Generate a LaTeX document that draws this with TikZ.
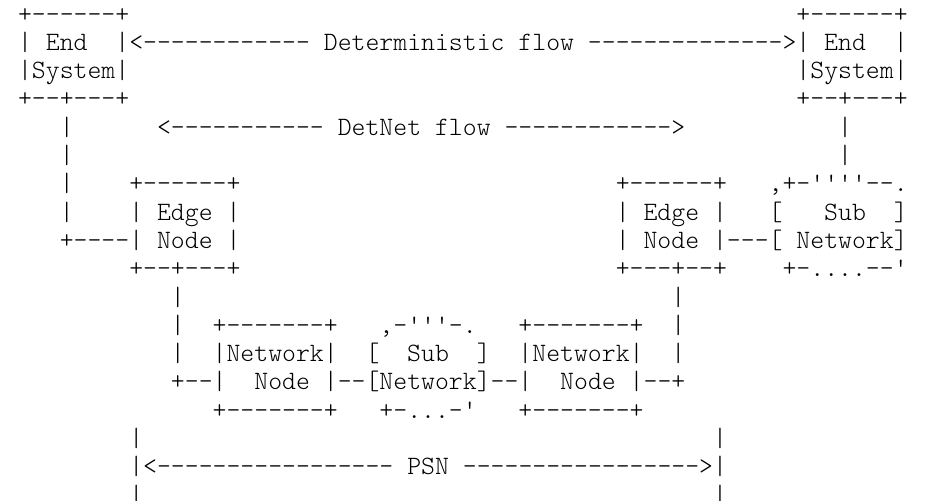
\documentclass[tikz,border=0pt]{standalone}
\usepackage{fontspec}
\newfontfamily\asc{lmmonolt10-regular.otf}
\tikzset{
  asc/.style={anchor=base west, inner sep=0pt, outer sep=0pt,
    font=\asc\fontsize{26.48pt}{28.3pt}\selectfont, text=black}
}
% #1 name, #2 column, #3 line, #4 text
\newcommand\tok[4]{\node[asc] (#1) at ({18.05pt+13.9pt*#2},{-22pt-28.3pt*(#3-1)}) {#4};}
\begin{document}
\begin{tikzpicture}
\useasboundingbox (0,0) rectangle (930pt,-501pt);
\fill[white] (0,0) rectangle (930pt,-501pt);
% line 1
\tok{esLtop}{0}{1}{+------+}
\tok{esRtop}{56}{1}{+------+}
% line 2
\tok{esLa}{0}{2}{|~End~~|}
\tok{dfL}{8}{2}{<------------}
\tok{df}{22}{2}{Deterministic~flow}
\tok{dfR}{41}{2}{-------------->}
\tok{esRa}{56}{2}{|~End~~|}
% line 3
\tok{esLb}{0}{3}{|System|}
\tok{esRb}{56}{3}{|System|}
% line 4
\tok{esLbot}{0}{4}{+--+---+}
\tok{esRbot}{56}{4}{+--+---+}
% line 5
\tok{vL5}{3}{5}{|}
\tok{dnL}{10}{5}{<-----------}
\tok{dn}{23}{5}{DetNet~flow}
\tok{dnR}{35}{5}{------------>}
\tok{vR5}{59}{5}{|}
% line 6
\tok{vL6}{3}{6}{|}
\tok{vR6}{59}{6}{|}
% line 7
\tok{vL7}{3}{7}{|}
\tok{enLtop}{8}{7}{+------+}
\tok{enRtop}{43}{7}{+------+}
\tok{snRtop}{54}{7}{,+-''''--.}
% line 8
\tok{vL8}{3}{8}{|}
\tok{enLa}{8}{8}{|~Edge~|}
\tok{enRa}{43}{8}{|~Edge~|}
\tok{snRa}{54}{8}{[~~~Sub~~]}
% line 9
\tok{enLb}{3}{9}{+----|~Node~|}
\tok{enRb}{43}{9}{|~Node~|---[~Network]}
% line 10
\tok{enLbot}{8}{10}{+--+---+}
\tok{enRbot}{43}{10}{+---+--+}
\tok{snRbot}{55}{10}{+-....--'}
% line 11
\tok{vL11}{11}{11}{|}
\tok{vR11}{47}{11}{|}
% line 12
\tok{vL12}{11}{12}{|}
\tok{nnLtop}{14}{12}{+-------+}
\tok{snMtop}{26}{12}{,-'''-.}
\tok{nnRtop}{36}{12}{+-------+}
\tok{vR12}{47}{12}{|}
% line 13
\tok{vL13}{11}{13}{|}
\tok{nnLa}{14}{13}{|Network|}
\tok{snMa}{25}{13}{[~~Sub~~]}
\tok{nnRa}{36}{13}{|Network|}
\tok{vR13}{47}{13}{|}
% line 14
\tok{row14}{11}{14}{+--|~~Node~|--[Network]--|~~Node~|--+}
% line 15
\tok{nnLbot}{14}{15}{+-------+}
\tok{snMbot}{26}{15}{+-...-'}
\tok{nnRbot}{36}{15}{+-------+}
% line 16
\tok{vL16}{8}{16}{|}
\tok{vR16}{50}{16}{|}
% line 17
\tok{psn}{8}{17}{|<-----------------~PSN~----------------->|}
% line 18
\tok{vL18}{8}{18}{|}
\tok{vR18}{50}{18}{|}
\end{tikzpicture}
\end{document}
